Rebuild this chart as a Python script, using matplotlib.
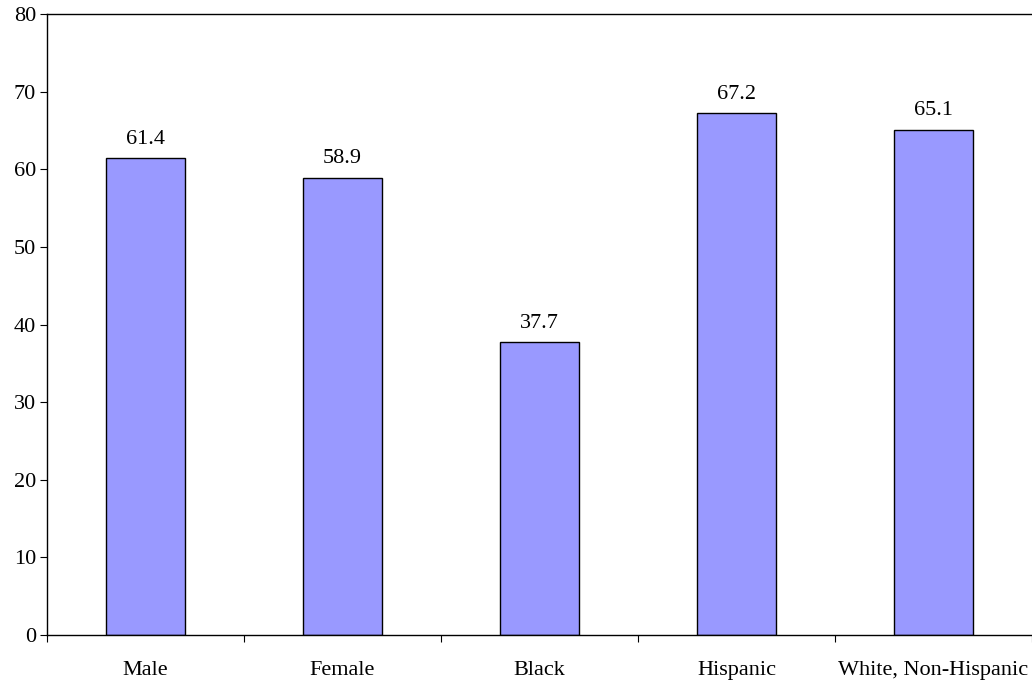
import numpy as np
from matplotlib import pyplot as plt

categories = ["Male", "Female", "Black", "Hispanic", "White, Non-Hispanic"]
values = [61.4, 58.9, 37.7, 67.2, 65.1]
yticks = [0, 10, 20, 30, 40, 50, 60, 70, 80]

plt.rcParams['font.family'] = ['Liberation Serif', 'DejaVu Serif']

fig = plt.figure(figsize=(10.32, 6.83), dpi=100)
ax = fig.add_axes([47/1032, 1 - 635/683, 1 - 47/1032, 621/683])

xs = np.arange(len(categories))
ax.bar(xs, values, width=0.4, color="#9999FF", edgecolor="black", linewidth=1.0)

for x, v in zip(xs, values):
    ax.text(x, v + 1.2, "{0:.1f}".format(v), ha="center", va="bottom", fontsize=16)

ax.set_xlim(-0.5, len(categories) - 0.5)
ax.set_ylim(0, 80)
ax.set_yticks(yticks)
ax.tick_params(axis="y", direction="out", length=5, labelsize=16, pad=3)

# category boundaries as ticks, labels on minor ticks
ax.set_xticks(np.arange(len(categories) + 1) - 0.5)
ax.set_xticklabels([])
ax.tick_params(axis="x", which="major", direction="out", length=5)
ax.set_xticks(xs, minor=True)
ax.set_xticklabels(categories, minor=True)
ax.tick_params(axis="x", which="minor", length=0, labelsize=16, pad=19)

ax.spines["right"].set_visible(False)
for s in ["left", "top", "bottom"]:
    ax.spines[s].set_linewidth(1.0)

fig.savefig("out.png", dpi=100)
